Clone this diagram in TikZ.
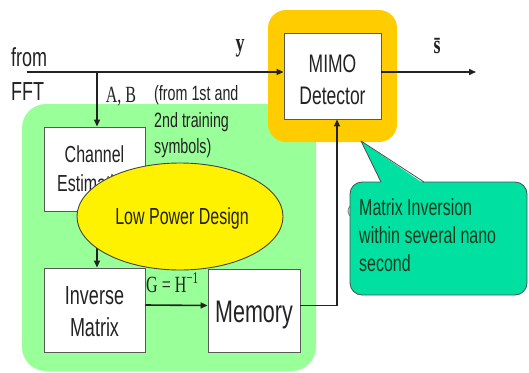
\documentclass[tikz,border=0pt]{standalone}
\usepackage{graphicx}
\usepackage{fontspec}
\setmainfont{Liberation Sans}
\newfontfamily\tms{Liberation Serif}
\usetikzlibrary{arrows.meta,shapes.geometric}
\newcommand{\vs}[1]{\scalebox{1}[1.45]{#1}}
\definecolor{lgreen}{HTML}{99FF99}
\definecolor{gold}{HTML}{FFCC00}
\definecolor{tealc}{HTML}{00E0A0}
\definecolor{ink}{HTML}{222222}
\definecolor{dkgreen}{HTML}{1E3A1E}
\begin{document}
\begin{tikzpicture}[x=1pt,y=-1pt,
  box/.style={draw=ink!75, line width=0.9pt, fill=white, inner sep=0pt, align=center, text=ink},
  conn/.style={draw=ink, line width=1.6pt, -{Triangle[length=7pt,width=6pt]}},
  lbl/.style={inner sep=0pt, text=ink},
  ]
\useasboundingbox (0,0) rectangle (529,372);
% backgrounds
\fill[lgreen, rounded corners=24pt] (22,104) rectangle (316,371);
\fill[gold, rounded corners=18pt] (268,10) rectangle (397,142);
% boxes
\node[box, minimum width=97pt, minimum height=86pt] (mimo) at (332.5,76) {};
\node[box, minimum width=101pt, minimum height=84pt] (ce) at (94.5,169) {};
\node[box, minimum width=101pt, minimum height=84pt] (im) at (94.5,310) {};
\node[box, minimum width=92pt, minimum height=83pt] (mem) at (254,310.5) {};
% box texts
\node[lbl] (mimot) at (332.5,82) {\vs{\fontsize{17.5}{22.5}\selectfont\begin{tabular}{@{}c@{}}MIMO\\Detector\end{tabular}}};
\node[lbl] (cet) at (94.5,171.5) {\vs{\fontsize{16}{20}\selectfont\begin{tabular}{@{}c@{}}Channel\\Estimation\end{tabular}}};
\node[lbl] (imt) at (94.5,314) {\vs{\fontsize{18}{22}\selectfont\begin{tabular}{@{}c@{}}Inverse\\Matrix\end{tabular}}};
\node[lbl] (memt) at (254,315) {\vs{\fontsize{21.5}{25}\selectfont Memory}};
% connectors
\coordinate (in) at (27,72);
\coordinate (br) at (97,72);
\coordinate (out) at (476,72);
\draw[conn] (in) -- ([yshift=4pt]mimo.west);
\draw[conn] ([yshift=4pt]mimo.east) -- (out);
\draw[conn] (br) -- ([xshift=2.5pt]ce.north);
\draw[conn] ([xshift=2.5pt]ce.south) -- ([xshift=2.5pt]im.north);
\draw[conn] ([yshift=5pt]im.east) -- ([yshift=5pt]mem.west);
\draw[conn] ([yshift=5pt]mem.east) -| ([xshift=4.5pt]mimo.south);
% ellipse
\node[ellipse, draw=ink!85, line width=0.9pt, fill=yellow, minimum width=206pt, minimum height=107pt, inner sep=0pt] (lpd) at (180,216.5) {};
\node[lbl] (lpdt) at (182,218) {\vs{\fontsize{16}{19}\selectfont Low Power Design}};
% partially hidden shape behind callout
\draw[gray, fill=gray!25, line width=0.8pt] (355,211) circle (7pt);
% callout
\draw[ink!80, fill=tealc, line width=0.8pt, rounded corners=12pt] (350,182) rectangle (527,295);
\fill[tealc] (381.5,183.5) -- (361,141) -- (423.5,183.5) -- cycle;
\draw[ink!80, line width=0.8pt, line join=round] (381,182) -- (361,141) -- (424,182);
\node[lbl, anchor=west, text=dkgreen] (callt) at (359,238) {\vs{\fontsize{16}{19}\selectfont\begin{tabular}{@{}l@{}}Matrix Inversion\\within several nano\\second\end{tabular}}};
% labels
\node[lbl, anchor=west] (from) at (11,57) {\vs{\fontsize{18}{20}\selectfont from}};
\node[lbl, anchor=west] (fft) at (11,92) {\vs{\fontsize{18}{20}\selectfont FFT}};
\node[lbl] (ylab) at (240,48) {\vs{\fontsize{18}{20}\selectfont\tms\bfseries y}};
\node[lbl] (slab) at (437,46) {\vs{\fontsize{18}{20}\selectfont\tms\bfseries \=s}};
\node[lbl] (ab) at (121,97) {\vs{\fontsize{16}{18}\selectfont\tms A, B}};
\node[lbl, anchor=west] (train) at (154,122) {\vs{\fontsize{14.3}{18.2}\selectfont\begin{tabular}{@{}l@{}}(from 1st and\\2nd training\\symbols)\end{tabular}}};
\node[lbl, anchor=west] (glab) at (146,283) {\vs{\fontsize{16}{18}\selectfont\tms G = H\textsuperscript{−1}}};
\end{tikzpicture}
\end{document}
